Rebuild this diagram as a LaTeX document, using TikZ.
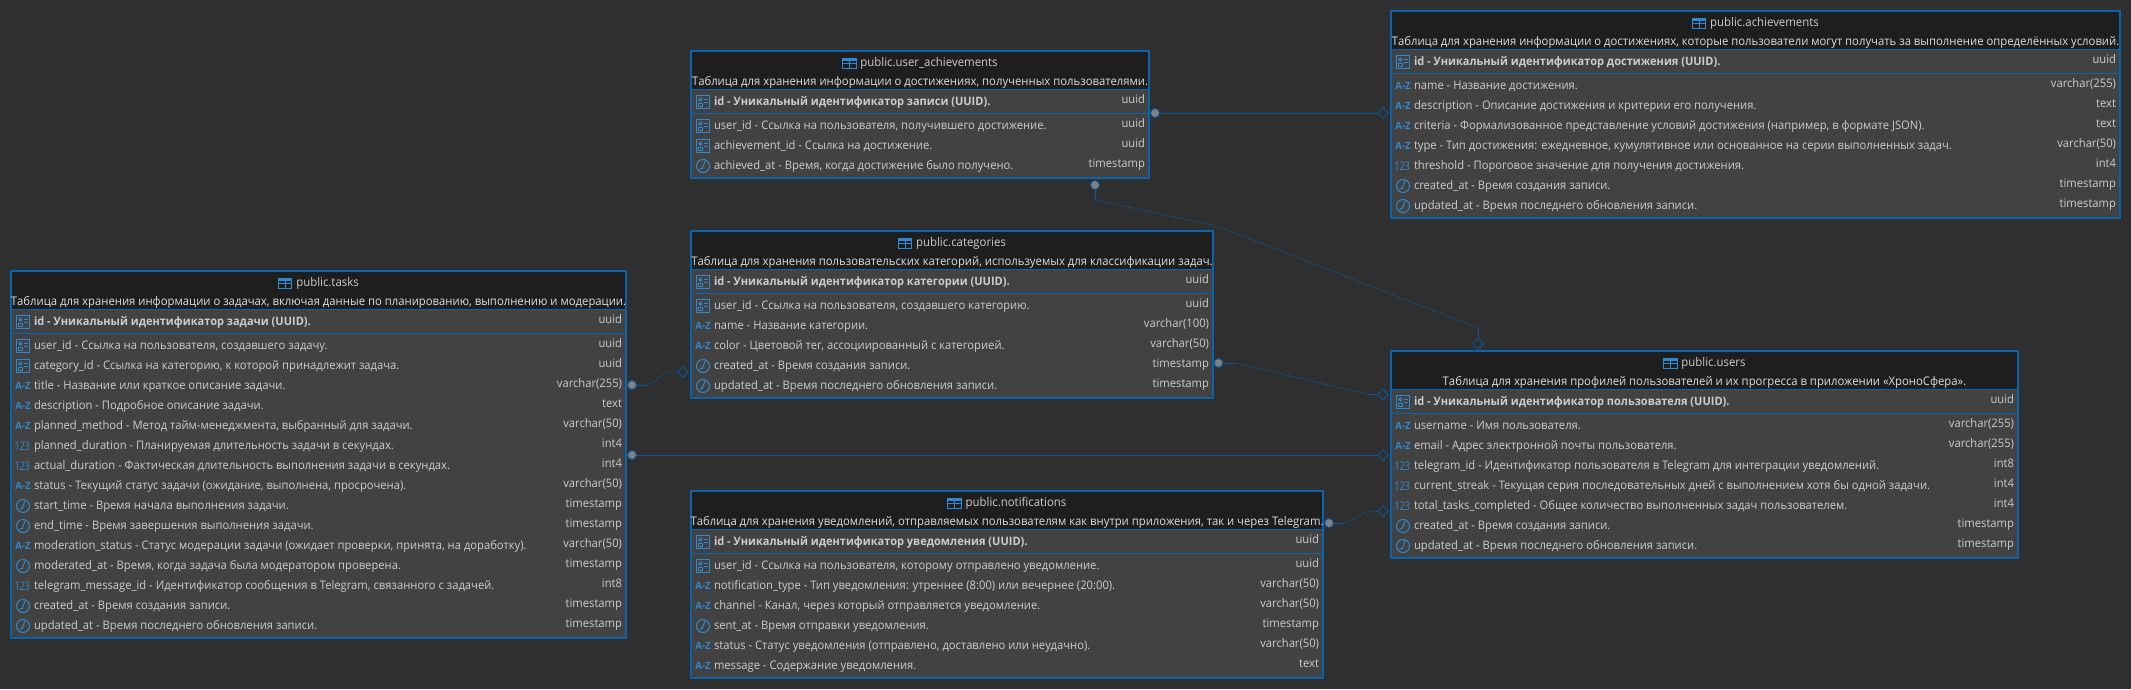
\documentclass[tikz,border=0pt]{standalone}
\usepackage{fontspec}
\setmainfont[FakeStretch=0.95]{Open Sans}
\usetikzlibrary{positioning, shapes.geometric}

\definecolor{CanvasBg}{HTML}{2F2F2F}
\definecolor{HeadBg}{HTML}{1E1E1E}
\definecolor{BodyBg}{HTML}{424242}
\definecolor{FrameBlue}{HTML}{0A63AD}
\definecolor{RelBlue}{HTML}{0C5695}
\definecolor{IconBlue}{HTML}{2E8AD0}
\definecolor{RowText}{HTML}{CCCCCC}
\definecolor{HeadText}{HTML}{DCDCDC}
\definecolor{DotGray}{HTML}{808080}

\tikzset{
	iconCard/.pic={
		\draw[IconLine] (-6.5,-6.5) rectangle (6.5,6.5);
		\draw[IconLine] (-2.6,2.4) circle (1.5);
		\draw[IconLine] (-4.6,-4) rectangle (-0.6,-1);
		\draw[IconLine] (1.2,2.6) -- (5,2.6) (1.2,-0.2) -- (5,-0.2);
	},
	iconText/.pic={\node[IconGlyph, font=\bfseries\fontsize{10}{10}\selectfont] {A-Z};},
	iconNum/.pic={\node[IconGlyph, font=\fontsize{12}{12}\selectfont, xshift=-0.7pt] {\scalebox{0.78}[1]{123}};},
	iconClock/.pic={
		\draw[IconLine] (0,0) circle (6.5);
		\draw[IconLine] (2,5) -- (-0.8,-2.4) -- (-3.6,-3.2);
	},
	iconTable/.pic={
		\fill[IconBlue] (-6.7,2) rectangle (6.7,5);
		\draw[IconLine] (-6.7,-5) rectangle (6.7,5);
		\draw[IconLine] (-6.7,0) -- (6.7,0) (0,-5) -- (0,2);
	}
}

% frame, header and id row of one table
\newcommand{\TableBox}[8]{
	\node (#1) [TableBody, minimum width=#4pt, minimum height=#5pt] at (#2,#3) {};
	\node (#1Head) [TableHead, minimum width=#4pt-2pt, below=1pt of #1.north] {};
	\node (#1Title) [TableTitle, below=6pt of #1.north, xshift=9pt] {#6};
	\pic at ([xshift=-11pt]#1Title.west) {iconTable};
	\node (#1Comment) [CommentName, below=25pt of #1.north] {#7};
	\draw[SepLine] (#1Head.south west) -- (#1Head.south east);
	\node (#1R0) [FieldName, font=\bfseries\fontsize{11.6}{12}\selectfont, below=3pt of #1Head.south west, anchor=north west, xshift=22pt] {#8};
	\pic at ([xshift=-11pt]#1R0.west) {iconCard};
	\node (#1Type0) [TypeName] at ([xshift=-4pt,yshift=2pt]#1.east |- #1R0) {uuid};
	\coordinate (#1Sep) at ([yshift=-1pt]#1R0.south);
	\draw[SepLine] (#1.west |- #1Sep) -- (#1.east |- #1Sep);
}
% rows of one table, each below the one before it
\newcommand{\FieldRows}[2]{
	\foreach \icon/\fieldtext/\fieldtype [count=\i] in {#2} {
		\pgfmathtruncatemacro{\p}{\i-1}
		\ifnum\i=1 \def\gap{4pt}\else \def\gap{0pt}\fi
		\node (#1R\i) [FieldName, below=\gap of #1R\p.south west, anchor=north west] {\fieldtext};
		\pic at ([xshift=-11pt]#1R\i.west) {\icon};
		\node (#1Type\i) [TypeName] at ([xshift=-4pt,yshift=2pt]#1.east |- #1R\i) {\fieldtype};
	}
}

\begin{document}
\begin{tikzpicture}[x=1pt, y=1pt]
	\tikzstyle{TableBody} = [rectangle, anchor=north west, inner sep=0pt, outer sep=0pt, draw=FrameBlue, line width=2pt, fill=BodyBg]
	\tikzstyle{TableHead} = [rectangle, inner sep=0pt, outer sep=0pt, minimum height=37pt, fill=HeadBg]
	\tikzstyle{TableTitle} = [inner sep=0pt, outer sep=0pt, text height=9pt, text depth=3pt, text=RowText, font=\fontsize{12}{12}\selectfont]
	\tikzstyle{CommentName} = [inner sep=0pt, outer sep=0pt, text height=9pt, text depth=3pt, text=HeadText, font=\fontsize{11.9}{12}\selectfont]
	\tikzstyle{FieldName} = [inner sep=0pt, outer sep=0pt, minimum height=20pt, text height=9pt, text depth=3pt, text=RowText, font=\fontsize{11.8}{12}\selectfont]
	\tikzstyle{TypeName} = [inner sep=0pt, outer sep=0pt, anchor=east, text height=9pt, text depth=3pt, text=RowText, font=\fontsize{11.8}{12}\selectfont]
	\tikzstyle{SepLine} = [draw=FrameBlue, line width=1pt]
	\tikzstyle{IconLine} = [draw=IconBlue, line width=1pt]
	\tikzstyle{IconGlyph} = [inner sep=0pt, text=IconBlue]
	\tikzstyle{RelDot} = [circle, inner sep=0pt, minimum size=9pt, draw=RelBlue, line width=1pt, fill=DotGray]
	\tikzstyle{RelDiamond} = [diamond, inner sep=0pt, minimum size=11pt, draw=RelBlue, line width=1pt]
	\tikzstyle{RelLine} = [draw=RelBlue, line width=1pt]
	\tikzstyle{RelDotted} = [draw=RelBlue, line width=1pt, dash pattern=on 1pt off 1pt]

	\fill[CanvasBg] (0,0) rectangle (2131,-689);
	\useasboundingbox (0,0) rectangle (2131,-689);

	\TableBox{tasks}{11}{-271}{615}{367}{public.tasks}{Таблица для хранения информации о задачах, включая данные по планированию, выполнению и модерации.}{id - Уникальный идентификатор задачи (UUID).}
	\FieldRows{tasks}{
		iconCard/{user\_id - Ссылка на пользователя, создавшего задачу.}/uuid,
		iconCard/{category\_id - Ссылка на категорию, к которой принадлежит задача.}/uuid,
		iconText/{title - Название или краткое описание задачи.}/varchar(255),
		iconText/{description - Подробное описание задачи.}/text,
		iconText/{planned\_method - Метод тайм-менеджмента, выбранный для задачи.}/varchar(50),
		iconNum/{planned\_duration - Планируемая длительность задачи в секундах.}/int4,
		iconNum/{actual\_duration - Фактическая длительность выполнения задачи в секундах.}/int4,
		iconText/{status - Текущий статус задачи (ожидание, выполнена, просрочена).}/varchar(50),
		iconClock/{start\_time - Время начала выполнения задачи.}/timestamp,
		iconClock/{end\_time - Время завершения выполнения задачи.}/timestamp,
		iconText/{moderation\_status - Статус модерации задачи (ожидает проверки, принята, на доработку).}/varchar(50),
		iconClock/{moderated\_at - Время, когда задача была модератором проверена.}/timestamp,
		iconNum/{telegram\_message\_id - Идентификатор сообщения в Telegram, связанного с задачей.}/int8,
		iconClock/{created\_at - Время создания записи.}/timestamp,
		iconClock/{updated\_at - Время последнего обновления записи.}/timestamp}

	\TableBox{userAch}{691}{-51}{458}{127}{public.user\_achievements}{Таблица для хранения информации о достижениях, полученных пользователями.}{id - Уникальный идентификатор записи (UUID).}
	\FieldRows{userAch}{
		iconCard/{user\_id - Ссылка на пользователя, получившего достижение.}/uuid,
		iconCard/{achievement\_id - Ссылка на достижение.}/uuid,
		iconClock/{achieved\_at - Время, когда достижение было получено.}/timestamp}

	\TableBox{categories}{691}{-231}{522}{167}{public.categories}{Таблица для хранения пользовательских категорий, используемых для классификации задач.}{id - Уникальный идентификатор категории (UUID).}
	\FieldRows{categories}{
		iconCard/{user\_id - Ссылка на пользователя, создавшего категорию.}/uuid,
		iconText/{name - Название категории.}/varchar(100),
		iconText/{color - Цветовой тег, ассоциированный с категорией.}/varchar(50),
		iconClock/{created\_at - Время создания записи.}/timestamp,
		iconClock/{updated\_at - Время последнего обновления записи.}/timestamp}

	\TableBox{notifications}{691}{-491}{632}{187}{public.notifications}{Таблица для хранения уведомлений, отправляемых пользователям как внутри приложения, так и через Telegram.}{id - Уникальный идентификатор уведомления (UUID).}
	\FieldRows{notifications}{
		iconCard/{user\_id - Ссылка на пользователя, которому отправлено уведомление.}/uuid,
		iconText/{notification\_type - Тип уведомления: утреннее (8:00) или вечернее (20:00).}/varchar(50),
		iconText/{channel - Канал, через который отправляется уведомление.}/varchar(50),
		iconClock/{sent\_at - Время отправки уведомления.}/timestamp,
		iconText/{status - Статус уведомления (отправлено, доставлено или неудачно).}/varchar(50),
		iconText/{message - Содержание уведомления.}/text}

	\TableBox{achievements}{1391}{-11}{729}{207}{public.achievements}{Таблица для хранения информации о достижениях, которые пользователи могут получать за выполнение определённых условий.}{id - Уникальный идентификатор достижения (UUID).}
	\FieldRows{achievements}{
		iconText/{name - Название достижения.}/varchar(255),
		iconText/{description - Описание достижения и критерии его получения.}/text,
		iconText/{criteria - Формализованное представление условий достижения (например, в формате JSON).}/text,
		iconText/{type - Тип достижения: ежедневное, кумулятивное или основанное на серии выполненных задач.}/varchar(50),
		iconNum/{threshold - Пороговое значение для получения достижения.}/int4,
		iconClock/{created\_at - Время создания записи.}/timestamp,
		iconClock/{updated\_at - Время последнего обновления записи.}/timestamp}

	\TableBox{users}{1391}{-351}{627}{207}{public.users}{Таблица для хранения профилей пользователей и их прогресса в приложении «ХроноСфера».}{id - Уникальный идентификатор пользователя (UUID).}
	\FieldRows{users}{
		iconText/{username - Имя пользователя.}/varchar(255),
		iconText/{email - Адрес электронной почты пользователя.}/varchar(255),
		iconNum/{telegram\_id - Идентификатор пользователя в Telegram для интеграции уведомлений.}/int8,
		iconNum/{current\_streak - Текущая серия последовательных дней с выполнением хотя бы одной задачи.}/int4,
		iconNum/{total\_tasks\_completed - Общее количество выполненных задач пользователем.}/int4,
		iconClock/{created\_at - Время создания записи.}/timestamp,
		iconClock/{updated\_at - Время последнего обновления записи.}/timestamp}

	\node (userAchDotA) [RelDot] at (1155,-113) {};
	\node (achievementsLink) [RelDiamond] at (1383,-113) {};
	\node (userAchDotB) [RelDot] at (1095,-185) {};
	\node (usersLinkTop) [RelDiamond] at (1478,-344) {};
	\node (categoriesDot) [RelDot] at (1218.5,-363) {};
	\node (usersLinkCat) [RelDiamond] at (1383,-394.5) {};
	\node (tasksDotA) [RelDot] at (632,-385) {};
	\node (categoriesLink) [RelDiamond] at (683,-372) {};
	\node (tasksDotB) [RelDot] at (632,-455) {};
	\node (usersLinkTasks) [RelDiamond] at (1383,-455) {};
	\node (notificationsDot) [RelDot] at (1329,-523) {};
	\node (usersLinkNote) [RelDiamond] at (1383,-511) {};

	\coordinate (bendA) at (1095,-200);
	\coordinate (bendB) at (1217,-226);
	\coordinate (bendC) at (1478,-328);
	\coordinate (bendD) at (1235.5,-363);
	\coordinate (bendE) at (1368,-394.5);
	\coordinate (bendF) at (648,-385);
	\coordinate (bendG) at (668,-372);
	\coordinate (bendH) at (1345,-523);
	\coordinate (bendJ) at (1368,-511);

	\draw[RelLine] (userAchDotA) -- (achievementsLink);
	\draw[RelLine] (tasksDotB) -- (usersLinkTasks);
	\draw[RelLine] (userAchDotB) -- (bendA);
	\draw[RelDotted] (bendA) -- (bendB) -- (bendC);
	\draw[RelLine] (bendC) -- (usersLinkTop);
	\draw[RelLine] (categoriesDot) -- (bendD);
	\draw[RelDotted] (bendD) -- (bendE);
	\draw[RelLine] (bendE) -- (usersLinkCat);
	\draw[RelLine] (tasksDotA) -- (bendF);
	\draw[RelDotted] (bendF) -- (bendG) -- (categoriesLink);
	\draw[RelLine] (notificationsDot) -- (bendH);
	\draw[RelDotted] (bendH) -- (bendJ) -- (usersLinkNote);
\end{tikzpicture}
\end{document}
